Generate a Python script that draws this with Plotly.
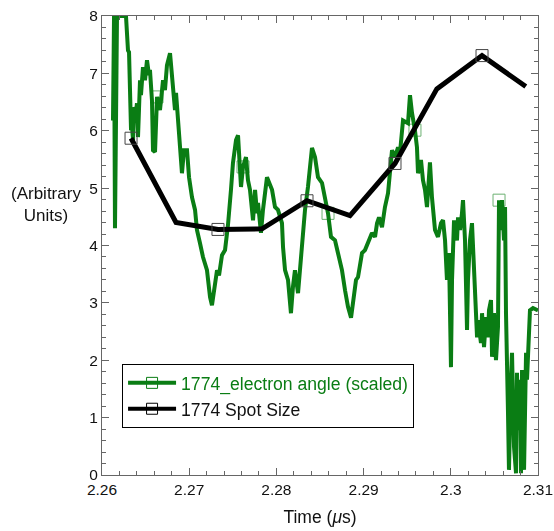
import plotly.graph_objects as go

# ---- data ----
angle_time = [2.26126, 2.26138, 2.26149, 2.26172, 2.26275, 2.26287, 2.26298, 2.26310, 2.26321, 2.26333,
              2.26344, 2.26356, 2.26367, 2.26390, 2.26401, 2.26413, 2.26424, 2.26436, 2.26447, 2.26470,
              2.26493, 2.26516, 2.26539, 2.26550, 2.26573, 2.26585, 2.26608, 2.26631, 2.26665, 2.26688,
              2.26700, 2.26722, 2.26745, 2.26780, 2.26803, 2.26814, 2.26837, 2.26849, 2.26872, 2.26894,
              2.26917, 2.26940, 2.26975, 2.26998, 2.27032, 2.27067, 2.27089, 2.27124, 2.27158, 2.27204,
              2.27239, 2.27261, 2.27284, 2.27319, 2.27342, 2.27376, 2.27411, 2.27445, 2.27479, 2.27502,
              2.27537, 2.27560, 2.27594, 2.27617, 2.27651, 2.27674, 2.27697, 2.27732, 2.27755, 2.27778,
              2.27789, 2.27823, 2.27846, 2.27892, 2.27950, 2.27984, 2.28018, 2.28064, 2.28076, 2.28099,
              2.28133, 2.28167, 2.28190, 2.28213, 2.28248, 2.28271, 2.28294, 2.28328, 2.28362, 2.28385,
              2.28408, 2.28443, 2.28477, 2.28523, 2.28557, 2.28592, 2.28626, 2.28672, 2.28706, 2.28752,
              2.28787, 2.28821, 2.28856, 2.28878, 2.28913, 2.28936, 2.28982, 2.29016, 2.29050, 2.29096,
              2.29131, 2.29154, 2.29177, 2.29211, 2.29245, 2.29280, 2.29326, 2.29360, 2.29395, 2.29417,
              2.29452, 2.29509, 2.29532, 2.29555, 2.29589, 2.29612, 2.29624, 2.29658, 2.29681, 2.29704,
              2.29727, 2.29739, 2.29761, 2.29784, 2.29796, 2.29819, 2.29853, 2.29888, 2.29911, 2.29934,
              2.29956, 2.29979, 2.30002, 2.30014, 2.30037, 2.30071, 2.30083, 2.30106, 2.30128, 2.30140,
              2.30163, 2.30186, 2.30197, 2.30220, 2.30243, 2.30255, 2.30278, 2.30301, 2.30312, 2.30346,
              2.30358, 2.30381, 2.30404, 2.30426, 2.30438, 2.30461, 2.30473, 2.30495, 2.30518, 2.30541,
              2.30553, 2.30576, 2.30587, 2.30610, 2.30622, 2.30633, 2.30656, 2.30667, 2.30690, 2.30702,
              2.30725, 2.30748, 2.30759, 2.30771, 2.30794, 2.30805, 2.30817, 2.30840, 2.30863, 2.30874,
              2.30885, 2.30908, 2.30943, 2.31000]
angle_value = [6.18, 8.00, 4.30, 8.00, 8.00, 7.49, 7.40, 7.37, 6.88, 6.01,
               6.06, 5.84, 6.41, 6.31, 6.48, 5.89, 6.36, 6.88, 6.62, 7.11,
               6.88, 7.23, 6.97, 7.06, 6.53, 5.66, 5.63, 6.59, 6.36, 6.62,
               6.88, 6.71, 7.14, 7.35, 6.97, 6.66, 6.36, 6.66, 6.18, 5.61,
               5.26, 5.66, 5.66, 5.19, 4.84, 4.62, 4.27, 4.04, 3.80, 3.57,
               3.10, 2.96, 3.22, 3.57, 3.48, 3.83, 3.92, 4.36, 4.97, 5.44,
               5.84, 5.92, 5.02, 5.37, 5.54, 5.14, 4.97, 4.44, 4.97, 4.56,
               4.74, 4.22, 4.62, 5.19, 4.97, 4.67, 4.62, 4.39, 3.97, 3.57,
               3.40, 2.82, 3.28, 3.57, 3.17, 3.62, 4.09, 4.62, 5.02, 5.44,
               5.70, 5.54, 5.19, 5.09, 4.84, 4.56, 4.15, 4.09, 3.87, 3.57,
               3.22, 2.93, 2.74, 3.05, 3.40, 3.45, 3.87, 3.92, 4.04, 4.22,
               4.15, 4.39, 4.49, 4.32, 4.67, 4.91, 5.66, 5.54, 5.71, 5.61,
               6.18, 6.13, 6.62, 6.31, 6.01, 5.71, 5.26, 5.49, 5.14, 4.97,
               4.67, 4.97, 5.45, 4.84, 4.56, 4.27, 4.15, 4.39, 4.44, 4.09,
               3.40, 3.87, 1.88, 3.40, 4.44, 4.09, 4.49, 4.27, 4.56, 4.79,
               4.09, 2.53, 3.40, 4.09, 4.39, 3.97, 3.40, 2.40, 2.70, 2.30,
               2.82, 2.23, 2.75, 2.40, 2.87, 3.05, 2.06, 2.82, 2.00, 2.58,
               4.79, 4.27, 4.79, 4.09, 4.67, 2.82, 1.08, 0.09, 1.66, 2.13,
               0.49, 0.03, 1.78, 0.78, 1.66, 0.03, 1.83, 0.09, 2.13, 1.66,
               2.06, 2.87, 2.91, 2.87]
angle_marker_time = [2.26631, 2.27617, 2.28592, 2.29589, 2.30553]

spot_time = [2.26333, 2.26849, 2.27330, 2.27835, 2.28351, 2.28844, 2.29360, 2.29840, 2.30358, 2.30860]
spot_value = [5.87, 4.40, 4.28, 4.29, 4.78, 4.52, 5.43, 6.73, 7.31, 6.77]

x_tickvals = [2.26, 2.27, 2.28, 2.29, 2.30, 2.31]
x_ticktext = ["2.26", "2.27", "2.28", "2.29", "2.3", "2.31"]
y_tickvals = [0, 1, 2, 3, 4, 5, 6, 7, 8]

GREEN = "#0a7d14"
series_names = ['<span style="color:%s">1774_electron angle (scaled)</span>' % GREEN, "1774 Spot Size"]

FONT = "Liberation Sans, Arial, sans-serif"

fig = go.Figure()

# green trace (line only)
fig.add_trace(go.Scatter(x=angle_time, y=angle_value, mode="lines",
                         line=dict(color=GREEN, width=4), showlegend=False, hoverinfo="skip"))
# green markers on a subset of points
mk_y = [angle_value[angle_time.index(t)] for t in angle_marker_time]
fig.add_trace(go.Scatter(x=angle_marker_time, y=mk_y, mode="markers",
                         marker=dict(symbol="square-open", size=12, color=GREEN, line=dict(width=1)),
                         opacity=0.6, showlegend=False, hoverinfo="skip"))

# black trace
fig.add_trace(go.Scatter(x=spot_time, y=spot_value, mode="lines",
                         line=dict(color="black", width=5), showlegend=False, hoverinfo="skip"))
fig.add_trace(go.Scatter(x=spot_time[::2], y=spot_value[::2], mode="markers",
                         marker=dict(symbol="square-open", size=12, color="#444", line=dict(width=1)),
                         showlegend=False, hoverinfo="skip"))

# legend entries
fig.add_trace(go.Scatter(x=[None], y=[None], mode="lines+markers", name=series_names[0],
                         line=dict(color=GREEN, width=4),
                         marker=dict(symbol="square-open", size=11, color=GREEN, line=dict(width=1))))
fig.add_trace(go.Scatter(x=[None], y=[None], mode="lines+markers", name=series_names[1],
                         line=dict(color="black", width=4),
                         marker=dict(symbol="square-open", size=11, color="black", line=dict(width=1))))

axis_common = dict(showgrid=False, zeroline=False, showline=True, linecolor="#666", linewidth=1,
                   mirror="ticks", ticks="inside", ticklen=7, tickcolor="#666", tickwidth=1,
                   automargin=False,
                   tickfont=dict(family=FONT, size=15.5, color="#111"))

fig.update_xaxes(range=[2.26, 2.31], tickvals=x_tickvals, ticktext=x_ticktext,
                 minor=dict(dtick=0.002, tick0=2.26, ticks="inside", ticklen=4, tickcolor="#666"),
                 title=dict(text="Time (<i>μ</i>s)", font=dict(family=FONT, size=17.5, color="#111"), standoff=14),
                 **axis_common)
fig.update_yaxes(range=[0, 8], tickvals=y_tickvals,
                 minor=dict(dtick=0.2, tick0=0, ticks="inside", ticklen=4, tickcolor="#666"),
                 **axis_common)

fig.add_annotation(text="(Arbitrary<br>Units)", xref="paper", yref="paper",
                   x=-0.128, y=0.59, xanchor="center", yanchor="middle", showarrow=False,
                   font=dict(family=FONT, size=17, color="#111"))

fig.update_layout(
    width=554, height=531,
    margin=dict(l=102, r=16, t=16, b=56),
    plot_bgcolor="white", paper_bgcolor="white",
    legend=dict(x=0.046, y=0.242, xanchor="left", yanchor="top",
                bgcolor="white", bordercolor="black", borderwidth=1,
                font=dict(family=FONT, size=17.6, color="#111"),
                itemwidth=48, tracegroupgap=0),
)

fig.write_html("out.html")
